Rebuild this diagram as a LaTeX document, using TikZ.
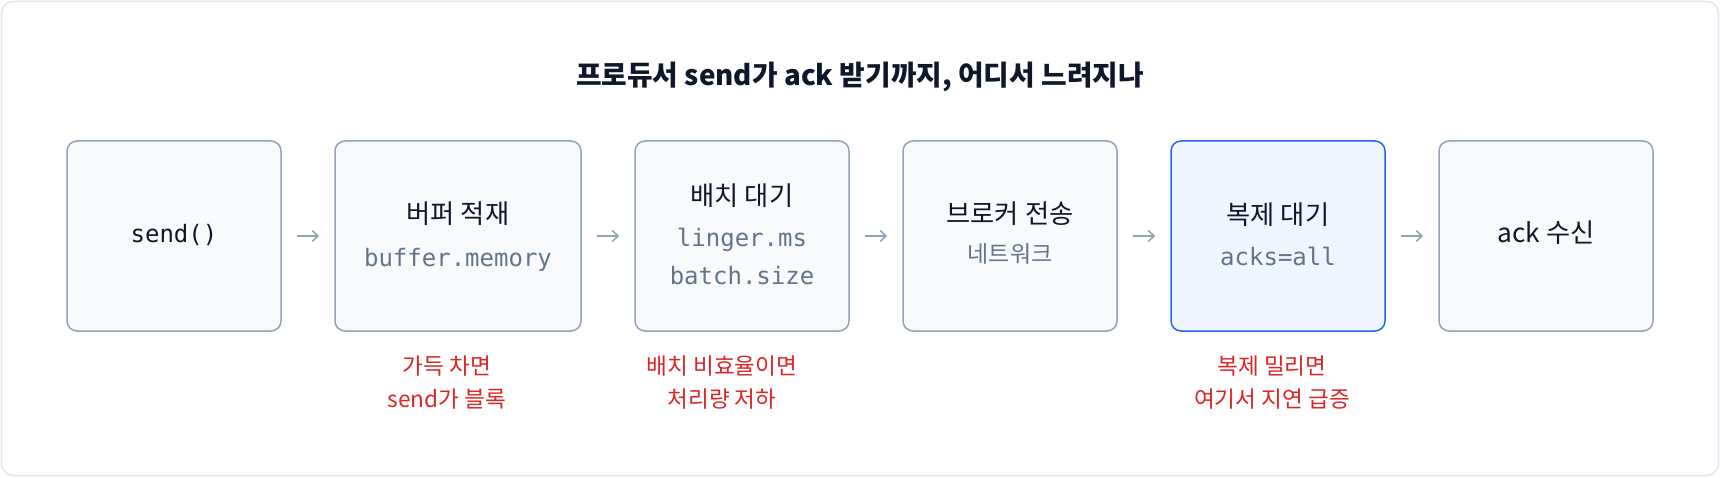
\documentclass[tikz,border=0pt]{standalone}
\usepackage{fontspec}
\setmainfont{Noto Sans CJK KR}
\setmonofont{DejaVu Sans Mono}
\usetikzlibrary{arrows.meta}
\definecolor{framegray}{HTML}{E5E7EB}
\definecolor{boxfill}{HTML}{F8FAFC}
\definecolor{boxline}{HTML}{94A3B8}
\definecolor{hotfill}{HTML}{EFF6FF}
\definecolor{hotline}{HTML}{2563EB}
\definecolor{ink}{HTML}{0F172A}
\definecolor{codegray}{HTML}{64748B}
\definecolor{warnred}{HTML}{DC2626}
\definecolor{arrowgray}{HTML}{94A3B8}

\begin{document}
\begin{tikzpicture}[x=1pt,y=-1pt,
	box/.style={draw=boxline,fill=boxfill,line width=1.5pt,rounded corners=10pt,minimum height=190pt,minimum width=214pt,inner sep=0pt},
	hot/.style={box,draw=hotline,fill=hotfill},
	ttl/.style={anchor=base,text=ink,font=\fontsize{26.3}{30}\selectfont},
	code/.style={anchor=base,text=codegray,font=\ttfamily\fontsize{24}{28}\selectfont},
	note/.style={anchor=base,text=warnred,font=\fontsize{22.6}{26}\selectfont},
	flow/.style={-{Straight Barb[length=6pt,width=11pt]},draw=arrowgray,line width=1.6pt,shorten <=15pt,shorten >=15pt}]
	\useasboundingbox (0,0) rectangle (1720,478);
	\fill[white] (0,0) rectangle (1720,478);
	\draw[framegray,fill=white,line width=1.5pt,rounded corners=12pt] (1.5,1.5) rectangle (1718.5,475.5); %바깥 틀
	\node[anchor=base,text=ink,font=\bfseries\fontsize{27.8}{32}\selectfont] (title) at (860,86) {프로듀서 send가 ack 받기까지, 어디서 느려지나};
	% 단계 상자
	\node[box] (send) at (174,236) {};
	\node[box,minimum width=246pt] (buffer) at (458,236) {};
	\node[box] (batch) at (742,236) {};
	\node[box] (broker) at (1010,236) {};
	\node[hot] (repl) at (1278,236) {};
	\node[box] (ack) at (1546,236) {};
	% 상자 안 글자
	\node[code,text=ink] (sendtxt) at (174,243) {send()};
	\node[ttl] (buffertxt) at (458,224) {버퍼 적재};
	\node[code] (buffercfg) at (458,266) {buffer.memory};
	\node[ttl] (batchtxt) at (742,206) {배치 대기};
	\node[code] (lingercfg) at (742,247) {linger.ms};
	\node[code] (sizecfg) at (742,284) {batch.size};
	\node[ttl] (brokertxt) at (1010,224) {브로커 전송};
	\node[anchor=base,text=codegray,font=\fontsize{23}{27}\selectfont] (nettxt) at (1010,262) {네트워크};
	\node[ttl] (repltxt) at (1278,224.5) {복제 대기};
	\node[code] (acksfg) at (1278,265.5) {acks=all};
	\node[ttl] (acktxt) at (1546,243) {ack 수신};
	% 화살표
	\draw[flow] (send) -- (buffer);
	\draw[flow] (buffer) -- (batch);
	\draw[flow] (batch) -- (broker);
	\draw[flow] (broker) -- (repl);
	\draw[flow] (repl) -- (ack);
	% 빨간 메모
	\node[note] (fullnote) at (447,374.5) {가득 차면};
	\node[note] (blocknote) at (447,407) {send가 블록};
	\node[note] (batchnote) at (722,374.5) {배치 비효율이면};
	\node[note] (thrunote) at (722,407) {처리량 저하};
	\node[note] (replnote) at (1272,374.5) {복제 밀리면};
	\node[note] (lagnote) at (1272,407) {여기서 지연 급증};
\end{tikzpicture}
\end{document}
